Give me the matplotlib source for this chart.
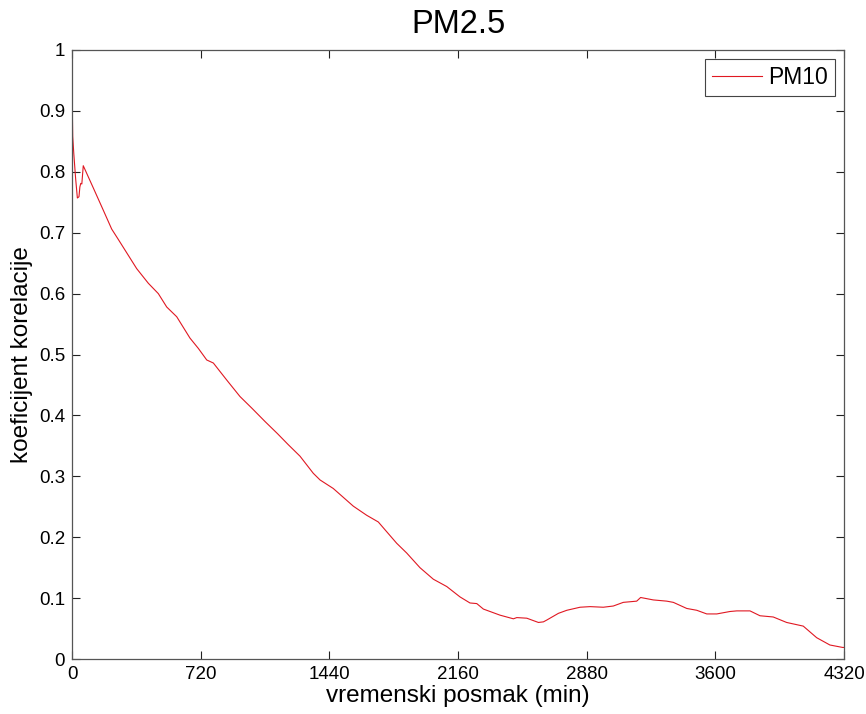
import matplotlib
matplotlib.use("Agg")
import matplotlib.pyplot as plt

lag_min = [0, 4, 10, 20, 30, 39, 44, 49, 55, 63, 120, 175, 222, 259, 362, 427, 483,
           530, 586, 660, 707, 754, 791, 866, 940, 1006, 1080, 1150, 1210, 1276,
           1350, 1388, 1462, 1574, 1649, 1714, 1761, 1817, 1873, 1947, 2022, 2097,
           2171, 2227, 2265, 2302, 2395, 2470, 2489, 2545, 2610, 2638, 2657, 2722,
           2769, 2843, 2899, 2973, 3029, 3085, 3160, 3182, 3253, 3328, 3365, 3440,
           3496, 3552, 3608, 3682, 3720, 3794, 3850, 3924, 3999, 4092, 4167, 4241,
           4312, 4320]
corr = [0.937, 0.858, 0.83, 0.79, 0.757, 0.759, 0.775, 0.781, 0.78, 0.810, 0.773,
        0.737, 0.706, 0.689, 0.641, 0.617, 0.600, 0.578, 0.562, 0.527, 0.510,
        0.491, 0.486, 0.458, 0.431, 0.412, 0.39, 0.37, 0.352, 0.333, 0.305,
        0.294, 0.280, 0.251, 0.236, 0.225, 0.209, 0.190, 0.174, 0.150, 0.131,
        0.119, 0.102, 0.092, 0.091, 0.082, 0.072, 0.066, 0.068, 0.067, 0.060,
        0.061, 0.064, 0.075, 0.080, 0.085, 0.086, 0.085, 0.087, 0.093, 0.095,
        0.101, 0.097, 0.095, 0.093, 0.083, 0.080, 0.074, 0.074, 0.078, 0.079,
        0.079, 0.071, 0.069, 0.060, 0.054, 0.035, 0.023, 0.019, 0.019]

x_ticks = [0, 720, 1440, 2160, 2880, 3600, 4320]
y_ticks = [0, 0.1, 0.2, 0.3, 0.4, 0.5, 0.6, 0.7, 0.8, 0.9, 1]
y_tick_labels = ["0", "0.1", "0.2", "0.3", "0.4", "0.5", "0.6", "0.7", "0.8", "0.9", "1"]

plt.rcParams['font.family'] = ['Liberation Sans', 'DejaVu Sans']

fig = plt.figure(figsize=(8.66, 7.14), dpi=100)
ax = fig.add_axes([72/866, 55/714, 772/866, 609/714])

ax.plot(lag_min, corr, color='#e01822', lw=0.8, label='PM10')
ax.set_xlim(0, 4320)
ax.set_ylim(0, 1)
ax.set_xticks(x_ticks)
ax.set_xticklabels([str(t) for t in x_ticks])
ax.set_yticks(y_ticks)
ax.set_yticklabels(y_tick_labels)
ax.tick_params(direction='in', length=6, width=0.8, top=True, right=True,
               labelsize=13.5, pad=5, colors='#222222', labelcolor='black')
for s in ax.spines.values():
    s.set_color('#555555')
    s.set_linewidth(0.9)

ax.set_title('PM2.5', fontsize=23.5, pad=12.5)
ax.set_xlabel('vremenski posmak (min)', fontsize=17.5, labelpad=1.5)
ax.set_ylabel('koeficijent korelacije', fontsize=17.5, labelpad=4)

leg = ax.legend(loc='upper right', fontsize=16.5, fancybox=False, framealpha=1,
                edgecolor='#444444', handlelength=2.2, borderpad=0.3,
                borderaxespad=0.4, handletextpad=0.25)
leg.get_frame().set_linewidth(0.8)

fig.savefig('out.png', dpi=100)
